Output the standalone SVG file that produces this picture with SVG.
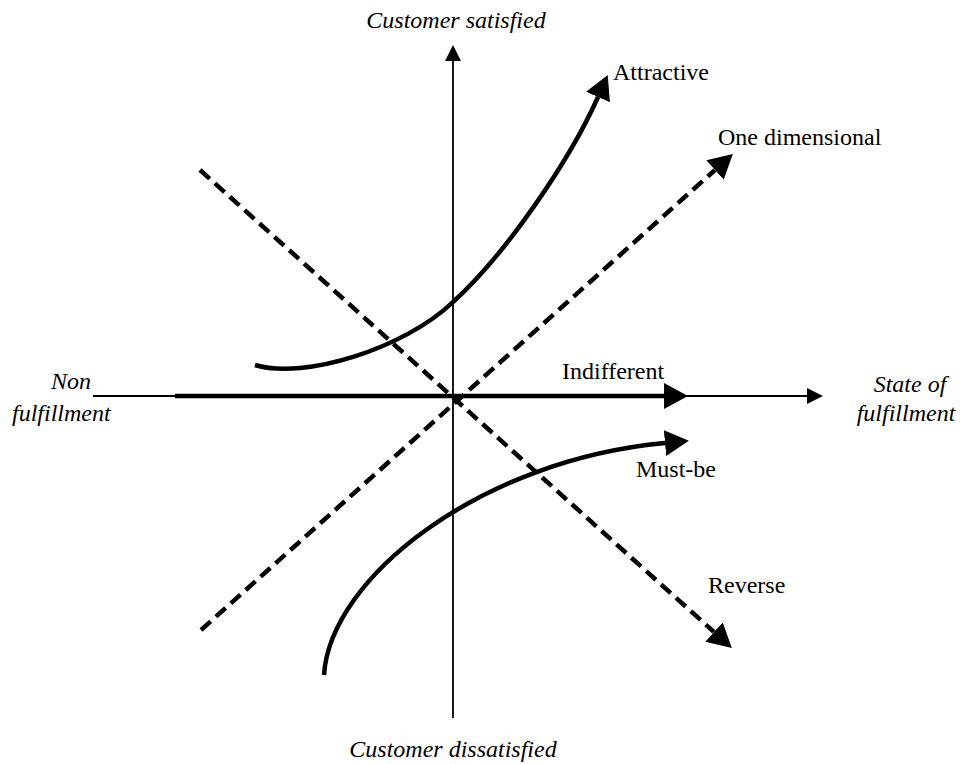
<svg xmlns="http://www.w3.org/2000/svg" width="963" height="764" viewBox="0 0 963 764">
  <style>
    .lbl { font-family: "Liberation Serif", "Times New Roman", serif; font-size: 24px; fill: #000; }
    .it { font-style: italic; }
    .axis { stroke: #000; stroke-width: 1.8; fill: none; }
    .thick { stroke: #000; stroke-width: 4.5; fill: none; }
    .dash { stroke: #000; stroke-width: 4.5; fill: none; stroke-dasharray: 13 7; }
  </style>
  <defs>
    <marker id="headBig" viewBox="0 0 24 26" refX="0" refY="13" markerWidth="24" markerHeight="26" markerUnits="userSpaceOnUse" orient="auto">
      <path d="M0,0 L24,13 L0,26 Z" fill="#000"/>
    </marker>
    <marker id="headSmall" viewBox="0 0 16 16" refX="0" refY="8" markerWidth="16" markerHeight="16" markerUnits="userSpaceOnUse" orient="auto">
      <path d="M0,0 L16,8 L0,16 Z" fill="#000"/>
    </marker>
  </defs>
  <rect width="963" height="764" fill="#fff"/>

  <g id="connectors">
    <path id="axis-vertical" class="axis" d="M453,718 L453,61" marker-end="url(#headSmall)"/>
    <path id="axis-horizontal" class="axis" d="M93,396 L807,396" marker-end="url(#headSmall)"/>
    <path id="indifferent-line" class="thick" stroke-width="5" d="M175,396 L664,396" marker-end="url(#headBig)"/>
    <path id="reverse-line" class="dash" d="M200,170 L714,632" marker-end="url(#headBig)"/>
    <path id="onedim-line" class="dash" d="M201,630 L715,170" marker-end="url(#headBig)"/>
    <path id="attractive-curve" class="thick" d="M255,365 C305,380 405,348 453,302 C506,254 570,160 598,97" marker-end="url(#headBig)"/>
    <path id="mustbe-curve" class="thick" d="M324,675 C330,578 480,460 665,443" marker-end="url(#headBig)"/>
  </g>

  <g id="node-customer-satisfied"><text class="lbl it" x="456" y="28" text-anchor="middle">Customer satisfied</text></g>
  <g id="node-customer-dissatisfied"><text class="lbl it" x="453" y="757" text-anchor="middle">Customer dissatisfied</text></g>
  <g id="node-non-fulfillment">
    <text class="lbl it" x="91" y="389" text-anchor="end">Non</text>
    <text class="lbl it" x="12" y="421">fulfillment</text>
  </g>
  <g id="node-state-of-fulfillment">
    <text class="lbl it" x="910" y="392" text-anchor="middle">State of</text>
    <text class="lbl it" x="906" y="421" text-anchor="middle">fulfillment</text>
  </g>
  <g id="node-attractive"><text class="lbl" x="613" y="80">Attractive</text></g>
  <g id="node-one-dimensional"><text class="lbl" x="718" y="145">One dimensional</text></g>
  <g id="node-indifferent"><text class="lbl" x="562" y="379">Indifferent</text></g>
  <g id="node-must-be"><text class="lbl" x="636" y="477">Must-be</text></g>
  <g id="node-reverse"><text class="lbl" x="708" y="593">Reverse</text></g>
</svg>
